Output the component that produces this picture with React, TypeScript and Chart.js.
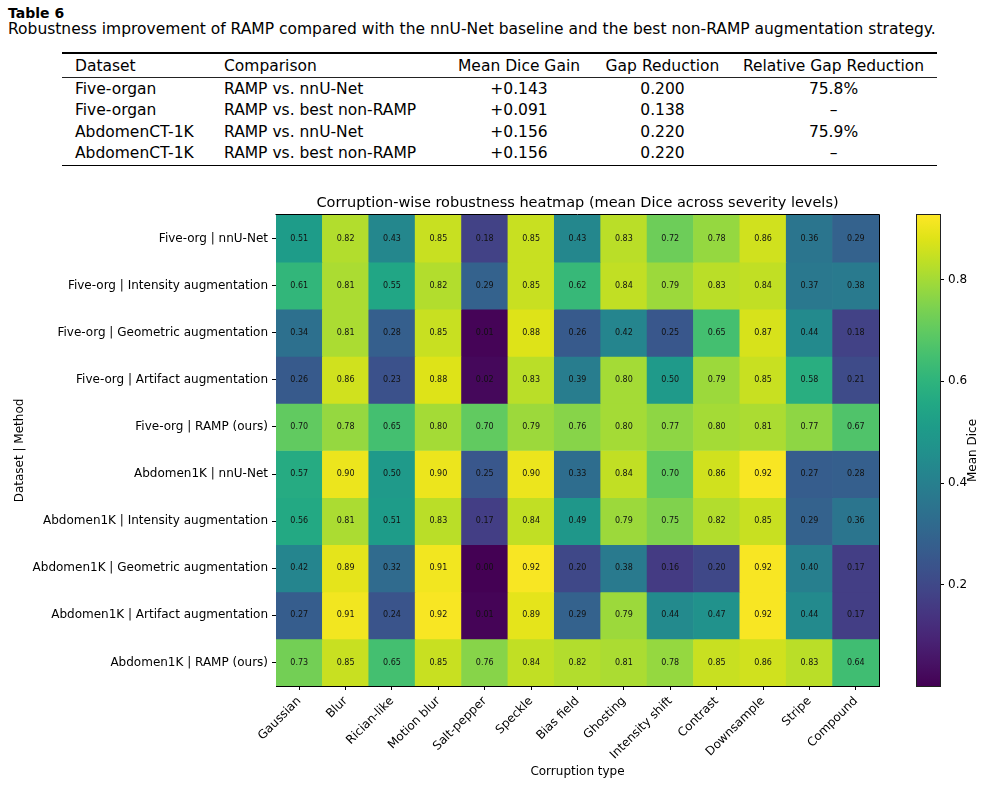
import React, { useEffect, useRef } from 'react';
import { Chart, registerables } from 'chart.js';

Chart.register(...registerables);

// ---- Summary table ----
const TABLE_HEADERS = ['Dataset', 'Comparison', 'Mean Dice Gain', 'Gap Reduction', 'Relative Gap Reduction'];
const TABLE_DATASETS = ['Five-organ', 'Five-organ', 'AbdomenCT-1K', 'AbdomenCT-1K'];
const TABLE_COMPARISONS = ['RAMP vs. nnU-Net', 'RAMP vs. best non-RAMP', 'RAMP vs. nnU-Net', 'RAMP vs. best non-RAMP'];
const TABLE_GAIN = ['+0.143', '+0.091', '+0.156', '+0.156'];
const TABLE_GAP = ['0.200', '0.138', '0.220', '0.220'];
const TABLE_REL = ['75.8%', '–', '75.9%', '–'];

// ---- Heatmap data (mean Dice across severity levels) ----
const CORRUPTIONS = [
  'Gaussian', 'Blur', 'Rician-like', 'Motion blur', 'Salt-pepper', 'Speckle', 'Bias field',
  'Ghosting', 'Intensity shift', 'Contrast', 'Downsample', 'Stripe', 'Compound',
];
const METHODS = [
  'Five-org | nnU-Net',
  'Five-org | Intensity augmentation',
  'Five-org | Geometric augmentation',
  'Five-org | Artifact augmentation',
  'Five-org | RAMP (ours)',
  'Abdomen1K | nnU-Net',
  'Abdomen1K | Intensity augmentation',
  'Abdomen1K | Geometric augmentation',
  'Abdomen1K | Artifact augmentation',
  'Abdomen1K | RAMP (ours)',
];
const FIVE_NNUNET = [0.51, 0.82, 0.43, 0.85, 0.18, 0.85, 0.43, 0.83, 0.72, 0.78, 0.86, 0.36, 0.29];
const FIVE_INTENSITY = [0.61, 0.81, 0.55, 0.82, 0.29, 0.85, 0.62, 0.84, 0.79, 0.83, 0.84, 0.37, 0.38];
const FIVE_GEOMETRIC = [0.34, 0.81, 0.28, 0.85, 0.01, 0.88, 0.26, 0.42, 0.25, 0.65, 0.87, 0.44, 0.18];
const FIVE_ARTIFACT = [0.26, 0.86, 0.23, 0.88, 0.02, 0.83, 0.39, 0.80, 0.50, 0.79, 0.85, 0.58, 0.21];
const FIVE_RAMP = [0.70, 0.78, 0.65, 0.80, 0.70, 0.79, 0.76, 0.80, 0.77, 0.80, 0.81, 0.77, 0.67];
const ABD_NNUNET = [0.57, 0.90, 0.50, 0.90, 0.25, 0.90, 0.33, 0.84, 0.70, 0.86, 0.92, 0.27, 0.28];
const ABD_INTENSITY = [0.56, 0.81, 0.51, 0.83, 0.17, 0.84, 0.49, 0.79, 0.75, 0.82, 0.85, 0.29, 0.36];
const ABD_GEOMETRIC = [0.42, 0.89, 0.32, 0.91, 0.00, 0.92, 0.20, 0.38, 0.16, 0.20, 0.92, 0.40, 0.17];
const ABD_ARTIFACT = [0.27, 0.91, 0.24, 0.92, 0.01, 0.89, 0.29, 0.79, 0.44, 0.47, 0.92, 0.44, 0.17];
const ABD_RAMP = [0.73, 0.85, 0.65, 0.85, 0.76, 0.84, 0.82, 0.81, 0.78, 0.85, 0.86, 0.83, 0.64];
const DICE_ROWS = [
  FIVE_NNUNET, FIVE_INTENSITY, FIVE_GEOMETRIC, FIVE_ARTIFACT, FIVE_RAMP,
  ABD_NNUNET, ABD_INTENSITY, ABD_GEOMETRIC, ABD_ARTIFACT, ABD_RAMP,
];
const COLOR_MIN = 0.001;
const COLOR_MAX = 0.927;
const COLORBAR_TICKS = [0.2, 0.4, 0.6, 0.8];

const HEATMAP_TITLE = 'Corruption-wise robustness heatmap (mean Dice across severity levels)';

// viridis sampled at 21 evenly spaced points
const VIRIDIS = [
  '#440154', '#471365', '#482475', '#463480', '#414487', '#3b528b', '#355f8d',
  '#2f6c8e', '#2a788e', '#25848e', '#21918c', '#1e9c89', '#22a884', '#2fb47c',
  '#44bf70', '#5ec962', '#7ad151', '#9bd93c', '#bddf26', '#dfe318', '#fde725',
];

const FONT = '"DejaVu Sans", sans-serif';
const TABLE_FONT = '"DejaVu Sans", sans-serif';
const TICK_SIZE = 12;

Chart.defaults.font.family = FONT;

function hexToRgb(h: string): number[] {
  const n = parseInt(h.slice(1), 16);
  return [(n >> 16) & 255, (n >> 8) & 255, n & 255];
}

function viridis(v: number): string {
  let t = (v - COLOR_MIN) / (COLOR_MAX - COLOR_MIN);
  t = Math.max(0, Math.min(1, t));
  const pos = t * (VIRIDIS.length - 1);
  const i = Math.min(Math.floor(pos), VIRIDIS.length - 2);
  const f = pos - i;
  const a = hexToRgb(VIRIDIS[i]);
  const b = hexToRgb(VIRIDIS[i + 1]);
  const c = a.map((x, k) => Math.round(x + (b[k] - x) * f));
  return `rgb(${c[0]},${c[1]},${c[2]})`;
}

function Heatmap() {
  const ref = useRef<HTMLCanvasElement>(null);
  useEffect(() => {
    const cellText = {
      id: 'cellText',
      afterDatasetsDraw(chart: any) {
        const ctx = chart.ctx;
        ctx.save();
        ctx.font = `8px ${FONT}`;
        ctx.fillStyle = '#111';
        ctx.textAlign = 'center';
        ctx.textBaseline = 'middle';
        DICE_ROWS.forEach((row, r) => {
          const meta = chart.getDatasetMeta(r);
          meta.data.forEach((bar: any, c: number) => {
            const p = bar.getProps(['x', 'y', 'base'], true);
            ctx.fillText(row[c].toFixed(2), p.x, (p.y + p.base) / 2);
          });
        });
        ctx.restore();
      },
    };
    const frame = {
      id: 'frame',
      afterDraw(chart: any) {
        const { ctx, chartArea } = chart;
        const { left, right, top, bottom } = chartArea;
        ctx.save();
        ctx.strokeStyle = '#000';
        ctx.lineWidth = 1;
        ctx.beginPath();
        ctx.moveTo(Math.round(left) - 0.5, Math.round(top) - 0.5);
        ctx.lineTo(Math.round(right) + 0.5, Math.round(top) - 0.5);
        ctx.lineTo(Math.round(right) + 0.5, Math.round(bottom) + 0.5);
        ctx.stroke();
        ctx.font = `14.5px ${FONT}`;
        ctx.fillStyle = '#000';
        ctx.textAlign = 'center';
        ctx.textBaseline = 'middle';
        ctx.fillText(HEATMAP_TITLE, (left + right) / 2, top - 12);
        ctx.restore();
      },
    };
    const chart = new Chart(ref.current as HTMLCanvasElement, {
      type: 'bar',
      data: {
        labels: CORRUPTIONS,
        datasets: DICE_ROWS.map((row, r) => ({
          label: METHODS[r],
          data: row.map(() => [r, r + 1]),
          backgroundColor: row.map(viridis),
          borderWidth: 0,
          barPercentage: 1,
          categoryPercentage: 1,
          grouped: false,
        })),
      } as any,
      options: {
        responsive: false,
        animation: false,
        layout: { padding: { top: 30, right: 26, left: 0, bottom: 0 } },
        plugins: {
          legend: { display: false },
          tooltip: { enabled: false },
        },
        scales: {
          x: {
            type: 'category',
            offset: true,
            grid: { offset: false, drawOnChartArea: false, tickLength: 4, color: '#000' },
            border: { display: true, color: '#000' },
            ticks: {
              maxRotation: 45,
              minRotation: 45,
              autoSkip: false,
              padding: 4,
              color: '#000',
              font: { family: FONT, size: TICK_SIZE },
            },
            title: {
              display: true,
              text: 'Corruption type',
              color: '#000',
              font: { family: FONT, size: TICK_SIZE },
              padding: { top: 4, bottom: 6 },
            },
            afterFit: (s: any) => { s.height = 99; },
          },
          y: {
            type: 'linear',
            min: 0,
            max: METHODS.length,
            reverse: true,
            afterBuildTicks: (s: any) => {
              s.ticks = METHODS.map((_, i) => ({ value: i + 0.5 }));
            },
            ticks: {
              autoSkip: false,
              padding: 4,
              color: '#000',
              font: { family: FONT, size: TICK_SIZE },
              callback: (v: any) => METHODS[Math.floor(Number(v))],
            },
            grid: { drawOnChartArea: false, tickLength: 4, color: '#000' },
            border: { display: true, color: '#000' },
            title: {
              display: true,
              text: 'Dataset | Method',
              color: '#000',
              font: { family: FONT, size: TICK_SIZE },
              padding: { top: 13, bottom: 0 },
            },
            afterFit: (s: any) => { s.width = 276; },
          },
        },
      } as any,
      plugins: [cellText, frame],
    });
    return () => chart.destroy();
  }, []);
  return (
    <canvas
      ref={ref}
      width={905}
      height={600}
      style={{ position: 'absolute', left: 0, top: 185, width: 905, height: 600 }}
    />
  );
}

function Colorbar() {
  const ref = useRef<HTMLCanvasElement>(null);
  useEffect(() => {
    const extras = {
      id: 'cbExtras',
      afterDraw(chart: any) {
        const { ctx, chartArea } = chart;
        const { left, right, top, bottom } = chartArea;
        ctx.save();
        ctx.strokeStyle = '#222';
        ctx.lineWidth = 1;
        ctx.strokeRect(Math.round(left) - 0.5, Math.round(top) - 0.5, Math.round(right - left) + 1, Math.round(bottom - top) + 1);
        ctx.translate(right + 33, (top + bottom) / 2);
        ctx.rotate(-Math.PI / 2);
        ctx.font = `${TICK_SIZE}px ${FONT}`;
        ctx.fillStyle = '#000';
        ctx.textAlign = 'center';
        ctx.textBaseline = 'middle';
        ctx.fillText('Mean Dice', 0, 0);
        ctx.restore();
      },
    };
    const chart = new Chart(ref.current as HTMLCanvasElement, {
      type: 'bar',
      data: {
        labels: [''],
        datasets: [
          {
            data: [[COLOR_MIN, COLOR_MAX]],
            borderWidth: 0,
            barPercentage: 1,
            categoryPercentage: 1,
            backgroundColor: (c: any) => {
              const ch = c.chart;
              const y = ch.scales && ch.scales.y;
              if (!y || !ch.chartArea) return VIRIDIS[10];
              const y0 = y.getPixelForValue(COLOR_MIN);
              const y1 = y.getPixelForValue(COLOR_MAX);
              const g = ch.ctx.createLinearGradient(0, y0, 0, y1);
              VIRIDIS.forEach((col, i) => g.addColorStop(i / (VIRIDIS.length - 1), col));
              return g;
            },
          },
        ],
      } as any,
      options: {
        responsive: false,
        animation: false,
        layout: { padding: { left: 12, top: 30, bottom: 99, right: 0 } },
        plugins: { legend: { display: false }, tooltip: { enabled: false } },
        scales: {
          x: { display: false },
          y: {
            position: 'right',
            min: COLOR_MIN,
            max: COLOR_MAX,
            afterBuildTicks: (s: any) => {
              s.ticks = COLORBAR_TICKS.map((v) => ({ value: v }));
            },
            ticks: {
              padding: 4,
              color: '#000',
              font: { family: FONT, size: TICK_SIZE },
              callback: (v: any) => Number(v).toFixed(1),
            },
            grid: { drawOnChartArea: false, tickLength: 4, color: '#000' },
            border: { display: true, color: '#222' },
            afterFit: (s: any) => { s.width = 48; },
          },
        },
      } as any,
      plugins: [extras],
    });
    return () => chart.destroy();
  }, []);
  return (
    <canvas
      ref={ref}
      width={83}
      height={600}
      style={{ position: 'absolute', left: 905, top: 185, width: 83, height: 600 }}
    />
  );
}

const ROW_Y = [89, 110.3, 131.6, 153];

function SummaryTable() {
  const fs = 15.5;
  const line = (top: number, h: number, color: string) => (
    <div style={{ position: 'absolute', left: 62, width: 875, top, height: h, background: color }} />
  );
  const cell = (text: string, y: number, x: number, align: 'left' | 'center', key: string) => {
    const h = 20;
    const style: React.CSSProperties = {
      position: 'absolute',
      top: y - h / 2,
      height: h,
      lineHeight: `${h}px`,
      whiteSpace: 'nowrap',
      fontFamily: TABLE_FONT,
      fontSize: fs,
      color: '#000',
    };
    if (align === 'left') {
      style.left = x;
    } else {
      style.left = x - 110;
      style.width = 220;
      style.textAlign = 'center';
    }
    return <div key={key} style={style}>{text}</div>;
  };
  const cols: { x: number; align: 'left' | 'center'; values: string[] }[] = [
    { x: 75, align: 'left', values: TABLE_DATASETS },
    { x: 224, align: 'left', values: TABLE_COMPARISONS },
    { x: 519, align: 'center', values: TABLE_GAIN },
    { x: 662.5, align: 'center', values: TABLE_GAP },
    { x: 833.5, align: 'center', values: TABLE_REL },
  ];
  return (
    <div>
      <div style={{ position: 'absolute', left: 8, top: 3, height: 21, lineHeight: '21px', fontFamily: TABLE_FONT, fontSize: 14, fontWeight: 'bold' }}>
        Table 6
      </div>
      <div style={{ position: 'absolute', left: 8, top: 19, height: 21, lineHeight: '21px', whiteSpace: 'nowrap', fontFamily: TABLE_FONT, fontSize: fs }}>
        Robustness improvement of RAMP compared with the nnU-Net baseline and the best non-RAMP augmentation strategy.
      </div>
      {line(52, 1.5, '#000')}
      {TABLE_HEADERS.map((h, i) => cell(h, 65.5, cols[i].x, cols[i].align, `h${i}`))}
      {line(77, 1, '#222')}
      {cols.map((col, ci) => col.values.map((v, ri) => cell(v, ROW_Y[ri], col.x, col.align, `c${ci}-${ri}`)))}
      {line(164.5, 1.5, '#000')}
    </div>
  );
}

export default function App() {
  return (
    <div style={{ position: 'absolute', left: 0, top: 0, width: 988, height: 785, background: '#fff', overflow: 'hidden' }}>
      <SummaryTable />
      <Heatmap />
      <Colorbar />
    </div>
  );
}
